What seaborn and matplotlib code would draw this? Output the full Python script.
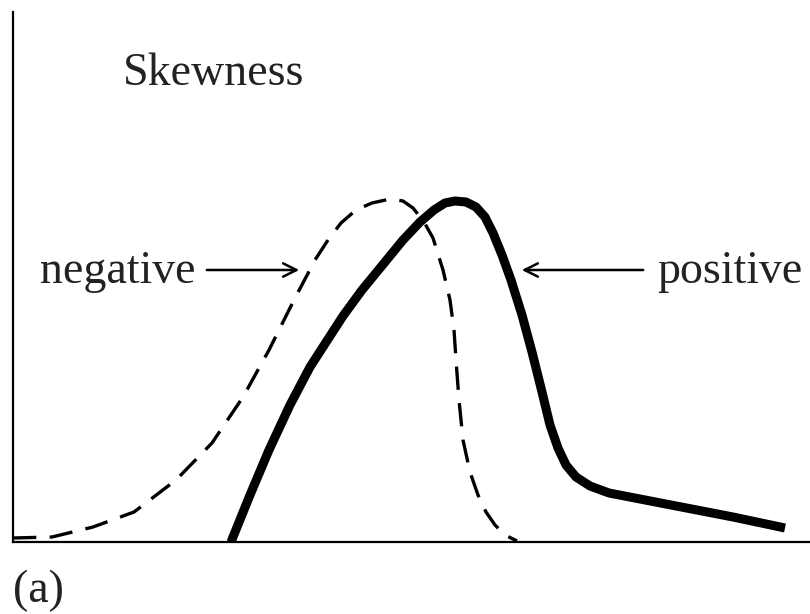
import matplotlib
matplotlib.use('Agg')
import matplotlib.pyplot as plt
import seaborn as sns

# curve readings (x across the plot, height above the baseline)
pos_x = [231, 250, 269, 290, 310, 343, 362, 385, 403, 420, 434, 445, 455, 466, 476, 485,
         493, 502, 511, 522, 532, 542, 550, 558, 566, 576, 590, 609, 640, 671, 733, 785]
pos_h = [0, 47, 92, 137, 175, 226, 252, 280, 302, 320, 332, 339, 341, 340, 335, 325,
         309, 287, 262, 227, 190, 150, 117, 94, 77, 65, 56, 49, 43, 37, 25, 14]

neg_x = [13, 52, 93, 134, 176, 212, 243, 269, 294, 315, 328, 341, 356, 372, 390, 403,
         413, 424, 433, 443, 450, 454, 456, 459, 463, 470, 478, 486, 495, 505, 517]
neg_h = [4, 5, 15, 30, 62, 99, 145, 192, 242, 282, 302, 319, 332, 339, 343, 341,
         334, 320, 304, 272, 242, 212, 182, 142, 102, 70, 47, 30, 17, 7, 1]

title_txt = 'Skewness'
neg_label = 'negative'
pos_label = 'positive'
panel_label = '(a)'

sns.set_style('white')
plt.rcParams['font.family'] = ['Liberation Serif', 'DejaVu Serif']

fig = plt.figure(figsize=(8.1, 6.14), dpi=100)
ax = fig.add_axes([13/810, 72/614, 797/810, 530/614])

sns.lineplot(x=neg_x, y=neg_h, sort=False, ax=ax, color='black', lw=2.4,
             linestyle=(0, (7, 4)))
sns.lineplot(x=pos_x, y=pos_h, sort=False, ax=ax, color='black', lw=6.5,
             solid_capstyle='butt', solid_joinstyle='round')

ax.set_xlim(13, 810)
ax.set_ylim(0, 530)
ax.set_xticks([])
ax.set_yticks([])
for s in ['top', 'right']:
    ax.spines[s].set_visible(False)
for s in ['left', 'bottom']:
    ax.spines[s].set_color('black')
    ax.spines[s].set_linewidth(1.6)

fs = 33
ax.text(123, 457, title_txt, fontsize=fs, va='baseline', ha='left', color='#222222')
ax.text(40, 259, neg_label, fontsize=fs, va='baseline', ha='left', color='#222222')
ax.text(803, 259, pos_label, fontsize=fs, va='baseline', ha='right', color='#222222')

ax.annotate('', xy=(302, 272), xytext=(204, 272),
            arrowprops=dict(arrowstyle='->', lw=1.8, color='black', mutation_scale=24))
ax.annotate('', xy=(519, 272), xytext=(646, 272),
            arrowprops=dict(arrowstyle='->', lw=1.8, color='black', mutation_scale=24))

fig.text(13/810, 12/614, panel_label, fontsize=fs, va='baseline', ha='left', color='#222222')

fig.savefig('out.png', dpi=100)
